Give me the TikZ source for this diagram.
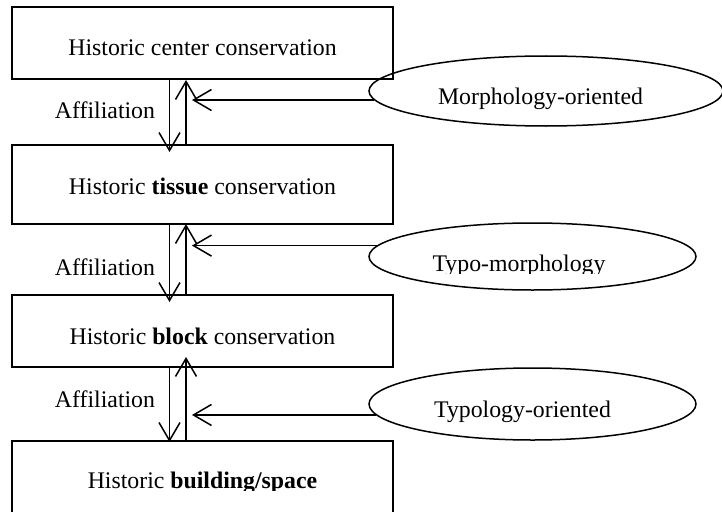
\documentclass[tikz,border=0pt]{standalone}
\usepackage{fontspec}
\setmainfont{Liberation Serif}
\usetikzlibrary{arrows.meta,shapes.geometric}
\begin{document}
\begin{tikzpicture}[x=1pt,y=-1pt,
  every node/.style={font=\fontsize{23.8}{28}\selectfont},
  box/.style={draw,line width=1.6pt,rectangle,minimum width=381pt,inner sep=0pt},
  oval/.style={draw,line width=1.5pt,ellipse,inner sep=0pt},
  txt/.style={anchor=base,inner sep=0pt},
  arr/.style={line width=1.5pt,-{Straight Barb[length=18pt,width=21pt,line width=1.5pt]}}]
\useasboundingbox (0,0) rectangle (722,511);
\clip (0,0) rectangle (722,511);
% boxes
\node[box,minimum height=72pt] (b1) at (202.5,43) {};
\node[box,minimum height=79pt] (b2) at (202.5,184.5) {};
\node[box,minimum height=72pt] (b3) at (202.5,331) {};
\node[box,minimum height=120pt] (b4) at (202.5,501) {};
\node[txt] (t1) at (202.5,56) {Historic center conservation};
\node[txt] (t2) at (202.5,194) {Historic \textbf{tissue} conservation};
\node[txt] (t3) at (202.5,344) {Historic \textbf{block} conservation};
\begin{scope}
\clip (0,0) rectangle (722,490.5);
\node[txt] (t4) at (202.5,488) {Historic \textbf{building/space}};
\end{scope}
% ellipses
\node[oval,minimum width=354pt,minimum height=70pt] (m1) at (546,91) {};
\node[oval,minimum width=327pt,minimum height=67pt] (m2) at (532.5,256.5) {};
\node[oval,minimum width=327pt,minimum height=72pt] (m3) at (532.5,404) {};
\node[txt] (l1) at (540.5,104) {Morphology-oriented};
\begin{scope}
\clip (0,0) rectangle (722,273.5);
\node[txt] (l2) at (519,271) {Typo-morphology};
\end{scope}
\node[txt] (l3) at (522.5,417) {Typology-oriented};
% affiliation labels
\node[txt] (a1) at (105,118) {Affiliation};
\node[txt] (a2) at (105,275) {Affiliation};
\node[txt] (a3) at (105,407) {Affiliation};
% vertical arrows
\coordinate (d1) at (169.5,152);
\coordinate (u1) at (186,80);
\coordinate (d2) at (169.5,302);
\coordinate (u2) at (186,224);
\coordinate (d3) at (169.5,442);
\coordinate (u3) at (186,357);
\draw[arr] (b1.south -| d1) -- (d1);
\draw[arr] (b2.north -| u1) -- (u1);
\draw[arr] (b2.south -| d2) -- (d2);
\draw[arr] (b3.north -| u2) -- (u2);
\draw[arr] (b3.south -| d3) -- (d3);
\draw[arr] (b4.north -| u3) -- (u3);
% horizontal arrows
\coordinate (hx) at (192,0);
\draw[arr] (m1.183.75) -- (m1.183.75 -| hx);
\draw[arr] (m2.176.9) -- (m2.176.9 -| hx);
\draw[arr] (m3.184.87) -- (m3.184.87 -| hx);
\end{tikzpicture}
\end{document}
